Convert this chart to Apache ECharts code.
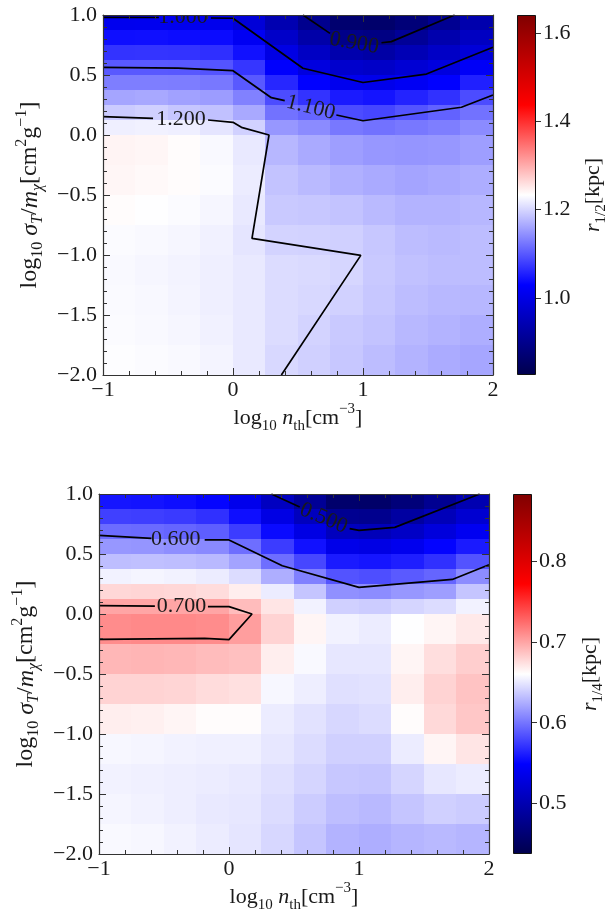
<!DOCTYPE html>
<html>
<head>
<meta charset="utf-8">
<script src="https://cdn.jsdelivr.net/npm/echarts@6/dist/echarts.min.js"></script>
<style>
html, body { margin: 0; padding: 0; background: #fff; }
#chart { width: 612px; height: 909px; }
</style>
</head>
<body>
<div id="chart"></div>
<script>
// cell edges: log10 n_th (x) and log10 sigma_T/m_chi (y)
const xEdges = [-1, -0.75, -0.5, -0.25, 0, 0.25, 0.5, 0.75, 1, 1.25, 1.5, 1.75, 2];
const yEdges = [-2, -1.75, -1.5, -1.25, -1, -0.75, -0.5, -0.25, 0, 0.125, 0.25, 0.375, 0.5, 0.625, 0.75, 0.875, 1];

// r_1/2 [kpc], rows from the top (y = 1) down to y = -2
const rHalf = [
  [1.010, 1.011, 1.009, 1.009, 0.985, 0.940, 0.900, 0.865, 0.860, 0.875, 0.905, 0.935],
  [1.040, 1.041, 1.039, 1.038, 1.015, 0.968, 0.930, 0.895, 0.888, 0.910, 0.935, 0.960],
  [1.070, 1.071, 1.070, 1.067, 1.043, 0.998, 0.962, 0.935, 0.926, 0.945, 0.964, 0.985],
  [1.100, 1.100, 1.099, 1.096, 1.072, 1.027, 0.993, 0.972, 0.966, 0.980, 0.993, 1.020],
  [1.130, 1.130, 1.129, 1.125, 1.100, 1.060, 1.030, 1.010, 1.006, 1.017, 1.030, 1.055],
  [1.161, 1.163, 1.158, 1.154, 1.132, 1.090, 1.070, 1.050, 1.045, 1.057, 1.068, 1.090],
  [1.191, 1.195, 1.187, 1.183, 1.164, 1.120, 1.110, 1.090, 1.085, 1.096, 1.107, 1.120],
  [1.220, 1.222, 1.220, 1.212, 1.196, 1.150, 1.140, 1.125, 1.120, 1.125, 1.130, 1.140],
  [1.242, 1.240, 1.235, 1.228, 1.215, 1.175, 1.165, 1.155, 1.150, 1.148, 1.150, 1.155],
  [1.240, 1.238, 1.235, 1.230, 1.218, 1.185, 1.178, 1.170, 1.165, 1.160, 1.163, 1.167],
  [1.235, 1.232, 1.230, 1.226, 1.215, 1.190, 1.188, 1.185, 1.178, 1.172, 1.172, 1.175],
  [1.230, 1.228, 1.226, 1.222, 1.212, 1.198, 1.197, 1.195, 1.188, 1.180, 1.178, 1.180],
  [1.228, 1.226, 1.223, 1.220, 1.215, 1.205, 1.203, 1.200, 1.190, 1.183, 1.180, 1.180],
  [1.229, 1.227, 1.224, 1.220, 1.215, 1.205, 1.202, 1.196, 1.188, 1.180, 1.176, 1.175],
  [1.230, 1.228, 1.226, 1.222, 1.215, 1.205, 1.198, 1.190, 1.185, 1.176, 1.172, 1.168],
  [1.231, 1.230, 1.228, 1.224, 1.215, 1.202, 1.195, 1.188, 1.180, 1.172, 1.166, 1.162]
];

// r_1/4 [kpc], same layout
const rQuarter = [
  [0.558, 0.557, 0.555, 0.551, 0.537, 0.510, 0.483, 0.457, 0.455, 0.465, 0.480, 0.500],
  [0.577, 0.576, 0.574, 0.570, 0.555, 0.532, 0.508, 0.480, 0.478, 0.490, 0.505, 0.520],
  [0.596, 0.595, 0.593, 0.590, 0.575, 0.553, 0.532, 0.508, 0.505, 0.513, 0.527, 0.540],
  [0.615, 0.614, 0.611, 0.609, 0.597, 0.575, 0.556, 0.535, 0.532, 0.538, 0.550, 0.560],
  [0.632, 0.633, 0.632, 0.630, 0.620, 0.597, 0.580, 0.560, 0.558, 0.562, 0.570, 0.585],
  [0.655, 0.656, 0.655, 0.652, 0.645, 0.625, 0.605, 0.585, 0.583, 0.588, 0.593, 0.610],
  [0.678, 0.679, 0.678, 0.676, 0.668, 0.652, 0.635, 0.612, 0.610, 0.615, 0.618, 0.635],
  [0.700, 0.700, 0.700, 0.700, 0.690, 0.672, 0.655, 0.640, 0.638, 0.642, 0.645, 0.655],
  [0.711, 0.712, 0.712, 0.711, 0.703, 0.680, 0.665, 0.655, 0.652, 0.660, 0.665, 0.670],
  [0.692, 0.693, 0.692, 0.690, 0.688, 0.668, 0.658, 0.650, 0.650, 0.665, 0.675, 0.682],
  [0.680, 0.680, 0.679, 0.676, 0.674, 0.657, 0.653, 0.647, 0.648, 0.668, 0.680, 0.687],
  [0.668, 0.667, 0.665, 0.662, 0.662, 0.652, 0.648, 0.643, 0.645, 0.662, 0.677, 0.685],
  [0.657, 0.656, 0.655, 0.654, 0.654, 0.650, 0.645, 0.640, 0.640, 0.652, 0.665, 0.672],
  [0.655, 0.654, 0.653, 0.652, 0.651, 0.647, 0.642, 0.636, 0.635, 0.642, 0.650, 0.652],
  [0.656, 0.655, 0.653, 0.651, 0.650, 0.645, 0.638, 0.632, 0.630, 0.635, 0.640, 0.638],
  [0.658, 0.657, 0.655, 0.652, 0.649, 0.643, 0.635, 0.627, 0.625, 0.628, 0.630, 0.628]
];

// colour ranges and colorbar ticks
const halfRange = [0.825, 1.641];
const halfTicks = [1.0, 1.2, 1.4, 1.6];
const quarterRange = [0.437, 0.884];
const quarterTicks = [0.5, 0.6, 0.7, 0.8];

// contour paths (broken where the inline label sits)
const halfContours = [
  [[-1, 0.981], [-0.57, 0.979]],
  [[-0.17, 0.975], [0, 0.973], [0.538, 0.556], [1, 0.4375], [1.488, 0.508], [2, 0.731]],
  [[0.538, 1.0], [0.746, 0.847]],
  [[1.142, 0.769], [1.218, 0.778], [1.705, 1.0]],
  [[-1, 0.564], [-0.423, 0.558], [0, 0.536], [0.295, 0.311], [0.398, 0.286]],
  [[0.795, 0.167], [1, 0.119], [1.757, 0.231], [2, 0.333]],
  [[-1, 0.153], [-0.615, 0.139]],
  [[-0.192, 0.125], [0, 0.106], [0.065, 0.064], [0.277, 0.0], [0.146, -0.861], [0.983, -1.003], [0.372, -2.0]]
];
const halfLabelText = ['1.000', '0.900', '1.100', '1.200'];
const halfLabelPos = [[-0.385, 0.979], [0.932, 0.765], [0.598, 0.229], [-0.4, 0.132]];
const halfLabelAngle = [0, -10, -14, 0];

const quarterContours = [
  [[0.326, 1.0], [0.544, 0.892]],
  [[0.928, 0.711], [1.0, 0.697], [1.275, 0.722], [1.928, 1.0]],
  [[-1, 0.655], [-0.597, 0.63]],
  [[-0.187, 0.617], [0, 0.617], [0.41, 0.402], [1, 0.222], [1.718, 0.288], [2, 0.411]],
  [[-1, 0.069], [-0.57, 0.066]],
  [[-0.162, 0.061], [0, 0.061], [0.177, 0.0], [0, -0.214], [-0.187, -0.203], [-1, -0.212]]
];
const quarterLabelText = ['0.500', '0.600', '0.700'];
const quarterLabelPos = [[0.728, 0.798], [-0.41, 0.62], [-0.366, 0.064]];
const quarterLabelAngle = [-23, 0, 0];

const seismic = ['#00004c', '#0000ff', '#ffffff', '#ff0000', '#800000'];
const FONT = '"Liberation Serif", "DejaVu Serif", serif';
const TXT = '#1a1a1a';
const AX = '#333';
const FS = 22;

function richSet(fs, sfs) {
  return {
    n: { fontFamily: FONT, fontSize: fs, color: TXT, lineHeight: 32 },
    i: { fontFamily: FONT, fontSize: fs, color: TXT, lineHeight: 32, fontStyle: 'italic' },
    sb: { fontFamily: FONT, fontSize: sfs, color: TXT, lineHeight: sfs, verticalAlign: 'bottom' },
    si: { fontFamily: FONT, fontSize: sfs, color: TXT, lineHeight: sfs, verticalAlign: 'bottom', fontStyle: 'italic' },
    sp: { fontFamily: FONT, fontSize: sfs, color: TXT, lineHeight: 20, verticalAlign: 'top' }
  };
}
const rich = richSet(22, 15);
const richY = richSet(24, 16);
const xName = '{n|log}{sb|10}{i| n}{sb|th}{n|[cm}{sp|\u22123}{n|]}';
const yName = '{n|log}{sb|10}{i| \u03c3}{si|T}{n|/}{i|m}{si|\u03c7}{n|[cm}{sp|2}{n|g}{sp|\u22121}{n|]}';

const fmtMinus = s => String(s).replace('-', '\u2212');

function toCells(rows) {
  const cells = [];
  const nRows = rows.length;
  rows.forEach((row, k) => {
    row.forEach((v, c) => cells.push([c, nRows - 1 - k, v]));
  });
  return cells;
}

function heatItem(params, api) {
  const c = api.value(0);
  const r = api.value(1);
  const p0 = api.coord([xEdges[c], yEdges[r + 1]]);
  const p1 = api.coord([xEdges[c + 1], yEdges[r]]);
  const x0 = Math.floor(p0[0]);
  const y0 = Math.floor(p0[1]);
  return {
    type: 'rect',
    shape: { x: x0, y: y0, width: Math.ceil(p1[0]) - x0, height: Math.ceil(p1[1]) - y0 },
    style: { fill: api.visual('color') }
  };
}

function gridAxes(gi) {
  const tick = { show: true, inside: true, length: 7, lineStyle: { color: AX, width: 1 } };
  const minor = { show: true, splitNumber: 5, length: 4, lineStyle: { color: AX, width: 1 } };
  const line = { show: true, onZero: false, lineStyle: { color: AX, width: 1.2 } };
  const lbl = { fontFamily: FONT, fontSize: FS, color: TXT };
  const xBase = { type: 'value', gridIndex: gi, min: -1, max: 2, interval: 1, z: 10,
    axisLine: line, axisTick: tick, minorTick: minor, splitLine: { show: false } };
  const yBase = { type: 'value', gridIndex: gi, min: -2, max: 1, interval: 0.5, z: 10,
    axisLine: line, axisTick: tick, minorTick: minor, splitLine: { show: false } };
  return {
    x: [
      Object.assign({}, xBase, {
        position: 'bottom',
        axisLabel: Object.assign({ margin: 4, formatter: v => fmtMinus(v) }, lbl),
        name: xName, nameLocation: 'middle', nameGap: 20, nameTextStyle: { rich: rich }
      }),
      Object.assign({}, xBase, { position: 'top', axisLabel: { show: false } })
    ],
    y: [
      Object.assign({}, yBase, {
        position: 'left',
        axisLabel: Object.assign({ margin: 6, formatter: v => fmtMinus(v.toFixed(1)) }, lbl),
        name: yName, nameLocation: 'middle', nameGap: 54, nameTextStyle: { rich: richY }
      }),
      Object.assign({}, yBase, { position: 'right', axisLabel: { show: false } })
    ]
  };
}

function colorbarAxes(gi, range, ticks, name, gap) {
  return {
    x: { type: 'value', gridIndex: gi, min: 0, max: 1, show: false },
    y: {
      type: 'value', gridIndex: gi, position: 'right', min: range[0], max: range[1],
      axisLine: { show: false, onZero: false },
      axisTick: { show: true, inside: false, length: 5, customValues: ticks, lineStyle: { color: AX } },
      axisLabel: { margin: 7, customValues: ticks, formatter: v => v.toFixed(1),
        fontFamily: FONT, fontSize: FS, color: TXT },
      splitLine: { show: false },
      name: name, nameLocation: 'middle', nameGap: gap, nameTextStyle: { rich: rich }
    }
  };
}

function colorbarItem(params, api) {
  const a = api.coord([0, api.value(3)]);
  const b = api.coord([1, api.value(1)]);
  const x0 = Math.round(a[0]) + 0.5;
  const y0 = Math.round(a[1]) + 0.5;
  return {
    type: 'rect',
    shape: { x: x0, y: y0, width: Math.round(b[0]) - Math.round(a[0]) - 1, height: Math.round(b[1]) - Math.round(a[1]) - 1 },
    style: {
      fill: new echarts.graphic.LinearGradient(0, 1, 0, 0,
        seismic.map((c, i) => ({ offset: i / (seismic.length - 1), color: c }))),
      stroke: '#111', lineWidth: 1
    }
  };
}

function contourSeries(paths, ai) {
  return paths.map(p => ({
    type: 'line', xAxisIndex: ai, yAxisIndex: ai, data: p, symbol: 'none', silent: true, z: 3,
    lineStyle: { color: '#000', width: 1.7 }, clip: true
  }));
}

function labelSeries(pos, texts, angles, ai) {
  return {
    type: 'custom', xAxisIndex: ai, yAxisIndex: ai, clip: true, silent: true, z: 4,
    data: pos.map((p, i) => [p[0], p[1], angles[i]]),
    renderItem: (params, api) => {
      const pt = api.coord([api.value(0), api.value(1)]);
      return {
        type: 'text', x: pt[0], y: pt[1], rotation: api.value(2) * Math.PI / 180,
        style: { text: texts[params.dataIndex], fontFamily: FONT, fontSize: FS, fill: TXT,
          align: 'center', verticalAlign: 'middle' }
      };
    }
  };
}

const chart = echarts.init(document.getElementById('chart'), null, { renderer: 'canvas' });

const topAx = gridAxes(0);
const topCb = colorbarAxes(1, halfRange, halfTicks, '{i|r}{sb|1/2}{n|[kpc]}', 41);
const botAx = gridAxes(2);
const botCb = colorbarAxes(3, quarterRange, quarterTicks, '{i|r}{sb|1/4}{n|[kpc]}', 42);

// axis index order: 0 top main(bottom/left), 1 top main mirror, 2 top colorbar,
// 3 bottom main, 4 bottom main mirror, 5 bottom colorbar
const series = [
  { type: 'custom', xAxisIndex: 0, yAxisIndex: 0, data: toCells(rHalf), renderItem: heatItem, silent: true, z: 1 },
  { type: 'custom', xAxisIndex: 3, yAxisIndex: 3, data: toCells(rQuarter), renderItem: heatItem, silent: true, z: 1 },
  { type: 'custom', xAxisIndex: 2, yAxisIndex: 2, data: [[0, halfRange[0], 1, halfRange[1]]], renderItem: colorbarItem, silent: true },
  { type: 'custom', xAxisIndex: 5, yAxisIndex: 5, data: [[0, quarterRange[0], 1, quarterRange[1]]], renderItem: colorbarItem, silent: true }
]
  .concat(contourSeries(halfContours, 0))
  .concat(contourSeries(quarterContours, 3))
  .concat([
    labelSeries(halfLabelPos, halfLabelText, halfLabelAngle, 0),
    labelSeries(quarterLabelPos, quarterLabelText, quarterLabelAngle, 3)
  ]);

chart.setOption({
  animation: false,
  backgroundColor: '#fff',
  grid: [
    { left: 103, top: 15, width: 390, height: 360, containLabel: false, outerBoundsMode: 'none' },
    { left: 517, top: 15, width: 19, height: 360, containLabel: false, outerBoundsMode: 'none' },
    { left: 99, top: 494, width: 390, height: 360, containLabel: false, outerBoundsMode: 'none' },
    { left: 513, top: 494, width: 19, height: 360, containLabel: false, outerBoundsMode: 'none' }
  ],
  xAxis: [topAx.x[0], topAx.x[1], topCb.x, botAx.x[0], botAx.x[1], botCb.x],
  yAxis: [topAx.y[0], topAx.y[1], topCb.y, botAx.y[0], botAx.y[1], botCb.y],
  visualMap: [
    { type: 'continuous', show: false, seriesIndex: 0, dimension: 2,
      min: halfRange[0], max: halfRange[1], inRange: { color: seismic } },
    { type: 'continuous', show: false, seriesIndex: 1, dimension: 2,
      min: quarterRange[0], max: quarterRange[1], inRange: { color: seismic } }
  ],
  series: series
});
</script>
</body>
</html>
